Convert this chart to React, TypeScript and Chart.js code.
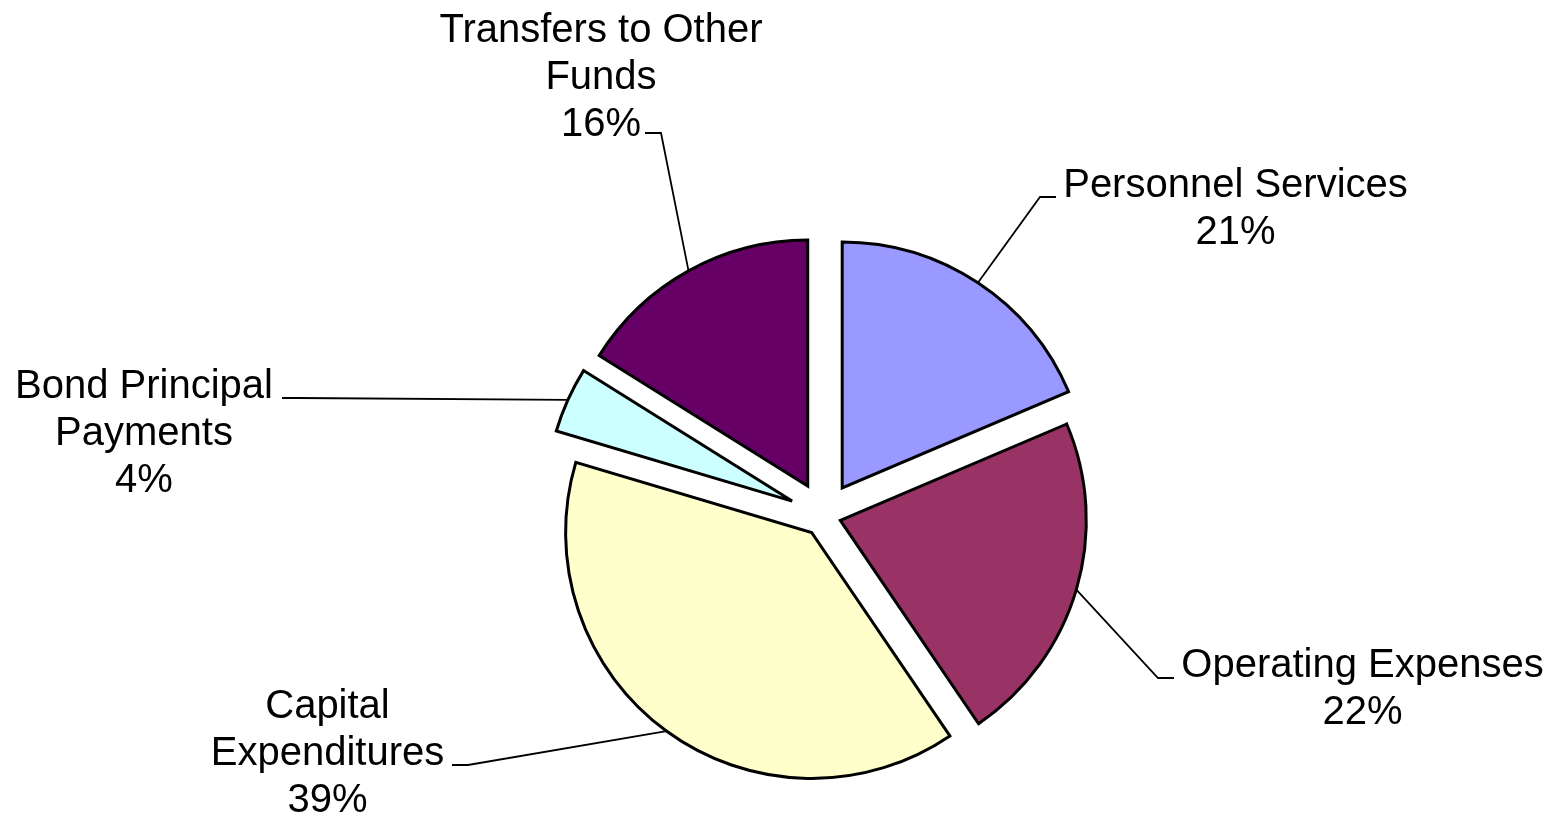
import React, { useEffect, useRef } from "react";
import { Chart, registerables } from "chart.js";

Chart.register(...registerables);

// ---- data ----
const categories = [
  "Personnel Services",
  "Operating Expenses",
  "Capital Expenditures",
  "Bond Principal Payments",
  "Transfers to Other Funds",
];
const values = [18.6, 21.9, 39.1, 4.3, 16.1];
const percentLabels = ["21%", "22%", "39%", "4%", "16%"];

// ---- style / layout ----
const colors = ["#9999FF", "#993366", "#FFFFCC", "#CCFFFF", "#660066"];
const explode = [33, 17, 21, 35, 33.6];
const labelLines = [
  ["Personnel Services"],
  ["Operating Expenses"],
  ["Capital", "Expenditures"],
  ["Bond Principal", "Payments"],
  ["Transfers to Other", "Funds"],
];
const labelLayout = [
  { cx: 1235.5, baseline: 197, hx: 1056, hy: 197, dir: -1 },
  { cx: 1362.5, baseline: 677, hx: 1174, hy: 678, dir: -1 },
  { cx: 327.5, baseline: 718, hx: 452, hy: 765, dir: 1 },
  { cx: 144, baseline: 398, hx: 282, hy: 398, dir: 1 },
  { cx: 601, baseline: 42, hx: 645, hy: 133, dir: 1 },
];
const FONT = '40px "Liberation Sans", Arial, sans-serif';
const LINE_H = 47;

const explodePlugin = {
  id: "explodeSlices",
  afterDatasetUpdate(chart: any, args: any) {
    const meta = chart.getDatasetMeta(args.index);
    meta.data.forEach((arc: any, i: number) => {
      const mid = (arc.startAngle + arc.endAngle) / 2;
      const d = explode[i] || 0;
      arc.x += Math.cos(mid) * d;
      arc.y += Math.sin(mid) * d;
    });
  },
  beforeDatasetsDraw(chart: any) {
    chart.ctx.save();
    chart.ctx.miterLimit = 3;
  },
  afterDatasetsDraw(chart: any) {
    chart.ctx.restore();
  },
};

const labelPlugin = {
  id: "leaderLabels",
  afterDraw(chart: any) {
    const ctx = chart.ctx;
    const meta = chart.getDatasetMeta(0);
    ctx.save();
    meta.data.forEach((arc: any, i: number) => {
      const L = labelLayout[i];
      const mid = (arc.startAngle + arc.endAngle) / 2;
      const px = arc.x + Math.cos(mid) * arc.outerRadius;
      const py = arc.y + Math.sin(mid) * arc.outerRadius;
      ctx.strokeStyle = "#000";
      ctx.lineWidth = 1.8;
      ctx.beginPath();
      ctx.moveTo(px, py);
      ctx.lineTo(L.hx + L.dir * 16, L.hy);
      ctx.lineTo(L.hx, L.hy);
      ctx.stroke();

      ctx.fillStyle = "#000";
      ctx.font = FONT;
      ctx.textAlign = "center";
      ctx.textBaseline = "alphabetic";
      const lines = [...labelLines[i], percentLabels[i]];
      lines.forEach((t, k) => {
        ctx.fillText(t, L.cx, L.baseline + k * LINE_H);
      });
    });
    ctx.restore();
  },
};

export default function App() {
  const ref = useRef<HTMLCanvasElement | null>(null);
  useEffect(() => {
    if (!ref.current) return;
    const chart = new Chart(ref.current, {
      type: "pie",
      data: {
        labels: categories,
        datasets: [
          {
            data: values,
            backgroundColor: colors,
            borderColor: "#000000",
            borderWidth: 3,
            borderJoinStyle: "miter",
          } as any,
        ],
      },
      options: {
        animation: false,
        responsive: false,
        events: [],
        radius: 246,
        layout: { padding: { left: 93, right: 0, top: 216, bottom: 0 } },
        plugins: {
          legend: { display: false },
          tooltip: { enabled: false },
        },
      } as any,
      plugins: [explodePlugin, labelPlugin],
    });
    return () => chart.destroy();
  }, []);
  return (
    <div style={{ position: "absolute", left: 0, top: 0, width: 1555, height: 815, background: "#fff" }}>
      <canvas ref={ref} width={1555} height={815} style={{ width: 1555, height: 815, display: "block" }} />
    </div>
  );
}
